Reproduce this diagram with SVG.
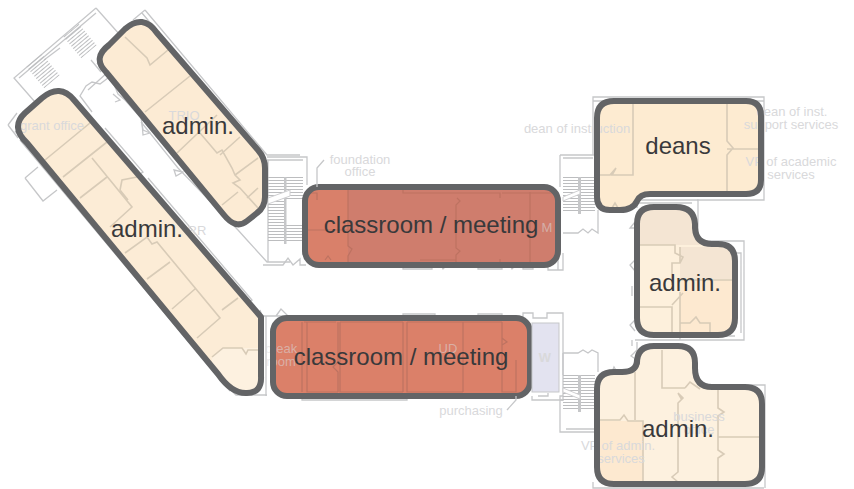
<svg xmlns="http://www.w3.org/2000/svg" width="854" height="489" viewBox="0 0 854 489">
<style>
.plan{fill:none;stroke:#c6c7c9;stroke-width:1.3}
.in{fill:none;stroke:#d8cbb7;stroke-width:1.6}
.inr{fill:none;stroke:#bd7261;stroke-width:1.2}
.o{fill:none;stroke:#636466;stroke-width:6;stroke-linejoin:round}
.t{font-family:"Liberation Sans",Arial,sans-serif;font-size:24px;fill:#39393b;text-anchor:middle}
.f{font-family:"Liberation Sans",Arial,sans-serif;font-size:13px;fill:#d9d9db;text-anchor:middle}
.fs{fill-opacity:.55}
.rail{fill:#c6c7c9}
</style>
<defs>
<pattern id="st" width="4" height="3" patternUnits="userSpaceOnUse"><path d="M0 .5H4" stroke="#bcbdbf" stroke-width="1"/></pattern>
<path id="p-up" d="M125 29Q143 13 157 33L258 150Q265 158 265 168V197Q265 207 257 213L247 221Q236 230 224 215L106 72Q92 58 109 45Z"/>
<path id="p-long" d="M42 98Q60 83 74 100L261 317V376Q262 393 247 393Q232 394 218 374L27 143Q10 127 25 113Z"/>
<path id="p-deans" d="M614 101H746Q761 101 761 116V180Q761 194 746 194H650Q640 194 637 201Q633 210 620 210H610Q597 210 597 197V118Q597 101 614 101Z"/>
<path id="p-mid" d="M654 207H676Q694 207 695 224V228Q696 244 712 244H718Q735 244 735 261V318Q735 335 718 335H654Q637 335 637 318V224Q637 207 654 207Z"/>
<path id="p-low" d="M654 346H678Q695 346 695 363V368Q695 387 712 387H745Q762 387 762 404V467Q762 484 745 484H614Q597 484 597 467V389Q597 372 614 372H622Q637 372 637 360V363Q637 346 654 346Z"/>
</defs>
<rect width="854" height="489" fill="#fff"/>
<g id="plan">
<path class="plan" d="M96 8L14 78L35 102M96 13L19 78M96 8L120 35M145 10L133 20M145 10L267 155H300M142 13L262 155M60 48L44 60"/>
<path class="plan" d="M88 90L118 63M91 60L101 72M97 63L113 82L118 94L125 100L141 118L143 130L150 133L178 168L238 230L247 240L267 262H290"/>
<path class="plan" d="M92 112L80 96L86 86L92 82L100 84L108 78L117 81M113 94L120 100L115 102M141 122L150 133L143 135L142 122M174 170L183 172L176 176Z"/>
<path class="plan" d="M8 125L17 113M8 125L18 138M25 178L38 167M25 178L43 201L57 190M80 112L100 130L96 123M105 128L143 172L140 174M148 178L252 300L248 302"/>
<path class="plan" d="M15 131L233 392L236 395H267M20 140L230 391M260 310L262 316H283M276 316L281 309L288 316M266 316V396"/>
<path class="plan" d="M267 157H307V185M267 160H303M268 160V262M263 265H283L288 258L293 265L300 259V265H306"/>
<path class="plan" d="M403 265V269H432V265M478 265V269H502V265M523 265V269H533V265M441 265L443 269L447 265M510 265L512 269L516 265"/>
<path class="plan" d="M403 318V314H435V318M478 318V314H502V318M523 318V313H533V318H547V313H563V396H560V432H594M563 401V375M560 400H563M302 398V400H407V398M566 429H594"/>
<path class="plan" d="M532 396V400H563M538 396H548V393"/>
<path class="plan" d="M593 155V97H764V200H697M593 101H764M560 155H600M560 155V187M563 158H593M563 233H578L583 229L588 233L592 229L598 233V210M563 253V270H548V265M558 258V270"/>
<path class="plan" d="M640 200H698V241H744V340H635M735 253H741V333M692 203H637V208M635 228L630 228L635 222M635 271L630 265L635 260M635 331L630 325L635 320M632 286V296M637 342V350L631 356L637 360M632 340V346"/>
<path class="plan" d="M563 353H578L583 350L588 353L592 350L598 353V372M563 353V375M612 372L614 367L617 372M680 340V336H735M593 482V488H764M610 385H765V488M593 483V488"/>
</g>
<g fill="url(#st)">
<rect x="268" y="177" width="16" height="65"/><rect x="286" y="177" width="17" height="22"/><rect x="286" y="224" width="17" height="18"/>
<rect x="563" y="177" width="15" height="35"/><rect x="581" y="177" width="14" height="35"/>
<rect x="563" y="375" width="15" height="35"/><rect x="581" y="375" width="14" height="35"/>
<rect x="70" y="27" width="20" height="28" transform="rotate(-40 80 41)"/>
<rect x="33" y="57" width="20" height="28" transform="rotate(-40 43 71)"/>
</g>
<g class="rail">
<rect x="284" y="177" width="2.5" height="67"/><rect x="578" y="177" width="3" height="37"/><rect x="578" y="375" width="3" height="37"/>
</g>
<path d="M268 198L290 190V196L268 204ZM563 197L580 190V194L563 201ZM563 388L580 395V399L563 392Z" fill="#fff" stroke="#d0d0d2"/>

<g id="admin-upper">
<use href="#p-up" fill="#fcebd4"/>
<path class="in" d="M125 37L147 58L150 65L168 50M145 112L190 76M177 153L217 115M200 133L217 153L222 150L232 168L235 175L240 180L233 183L240 188L258 208M220 155L240 137M235 175L258 158M222 205L238 192M247 198L258 188"/>
<text class="f" x="184" y="120">TRIO</text>
<use href="#p-up" class="o"/>
<text class="t" x="198" y="134">admin.</text>
</g>
<g id="admin-long">
<use href="#p-long" fill="#fcecd6"/>
<path fill="#fdf1e0" d="M212 357L223 348H261V376Q262 393 247 393Q232 394 218 374L212 366Z"/>
<path class="in" d="M45 160L90 123M63 177L107 142M92 158L132 207L110 227M80 198L107 177M120 190L122 180L137 177M120 190L128 200M125 253L147 237L152 244L157 242L220 318L197 338M147 279L170 262M172 309L195 289M222 310L238 298M212 357L223 348H242L246 354L248 350H260"/>
<text class="f" x="52" y="130">grant office</text>
<text class="f" x="197" y="235">RR</text>
<use href="#p-long" class="o"/>
<text class="t" x="147" y="237">admin.</text>
</g>
<g id="classroom-upper">
<rect x="305" y="187" width="253" height="78" rx="14" fill="#cf7d6d"/>
<path fill="#d9806a" d="M319 187H348V265H319Q305 265 305 251V201Q305 187 319 187Z"/>
<path class="inr" d="M348 190V246L352 249L348 256V262M457 198L460 201L456 205V248L460 251L456 255V262M530 192V262M305 230H348M403 190V193H417M417 193H500V198M502 193H553M500 259V262M307 193H317V200M325 260L328 256L331 260M420 260H456"/>
<text class="f fs" x="547" y="232">M</text>
<rect x="305" y="187" width="253" height="78" rx="14" class="o"/>
<text class="t" x="431" y="233">classroom / meeting</text>
</g>
<g id="classroom-lower">
<rect x="273" y="318" width="257" height="78" rx="14" fill="#db8069"/>
<path class="inr" d="M302 322V392M307 322V392H338M338 322V362L333 367L338 372V392M340 322V392H403M403 322V392M407 322V392H463M463 322V392M502 322V392H516V360M502 338L507 342L502 345M304 322H336M340 322H403M407 322H502"/>
<text class="f fs" x="281" y="353">break</text>
<text class="f fs" x="281" y="366">room</text>
<text class="f fs" x="448" y="353">UD</text>
<rect x="273" y="318" width="257" height="78" rx="14" class="o"/>
<text class="t" x="401" y="365">classroom / meeting</text>
</g>
<g id="storage-w">
<rect x="532" y="323" width="27" height="69" fill="#e3e3f0" stroke="#c6c7c9"/>
<text class="f" x="545" y="362" style="font-weight:bold">W</text>
</g>
<g id="deans">
<use href="#p-deans" fill="#fdebd1"/>
<path class="in" d="M633 103V175H612L616 168L610 175H600M727 103V141L733 148L727 155V191M727 149H758M612 208L615 203L618 208"/>
<text class="f" x="577" y="133">dean of instruction</text>
<text class="f" x="792" y="116">dean of inst.</text>
<text class="f" x="791" y="129">support services</text>
<text class="f" x="791" y="179">services</text>
<text class="f" x="791" y="166">VP of academic</text>
<use href="#p-deans" class="o"/>
<text class="t" x="678" y="154">deans</text>
</g>
<g id="admin-middle">
<use href="#p-mid" fill="#fdf0dc"/>
<path fill="#f4e5d3" d="M654 207H676Q694 207 695 224V228Q696 240 700 245H639V224Q637 207 654 207ZM680 247H733V279H680Z"/>
<path fill="#fde9d0" d="M680 280H733V318Q733 332 718 332H680Z"/>
<path class="in" d="M640 245H675V253L683 257L680 263H672V285M680 247V263M680 280H733M640 307H672V332M672 305L683 293M680 292V332M680 323H690L696 317L700 323H710V332"/>
<use href="#p-mid" class="o"/>
<text class="t" x="685" y="291">admin.</text>
</g>
<g id="admin-lower">
<use href="#p-low" fill="#fdf1df"/>
<path fill="#fde9d0" d="M600 421H643V482H614Q600 482 600 467Z"/>
<path class="in" d="M635 372V420M600 420H620L624 415L628 421H643V482M662 350V388H685M685 388L690 382L700 389M678 393L683 398L678 403V472L672 477L678 482M682 400L678 393M718 390V408L724 412L718 416V450L724 454L718 458V482M718 437H760"/>
<text class="f" x="699" y="421">business</text>
<text class="f" x="699" y="434">office</text>
<text class="f" x="618" y="450">VP of admin.</text>
<text class="f" x="621" y="463">services</text>
<use href="#p-low" class="o"/>
<text class="t" x="678" y="437">admin.</text>
</g>
<g id="connectors">
<path class="plan" d="M324 160L317 168V187M507 410L516 400V396"/>
</g>
<g id="labels">
<text class="f" x="360" y="164">foundation</text>
<text class="f" x="360" y="176">office</text>
<text class="f" x="471" y="415">purchasing</text>
</g>
</svg>
